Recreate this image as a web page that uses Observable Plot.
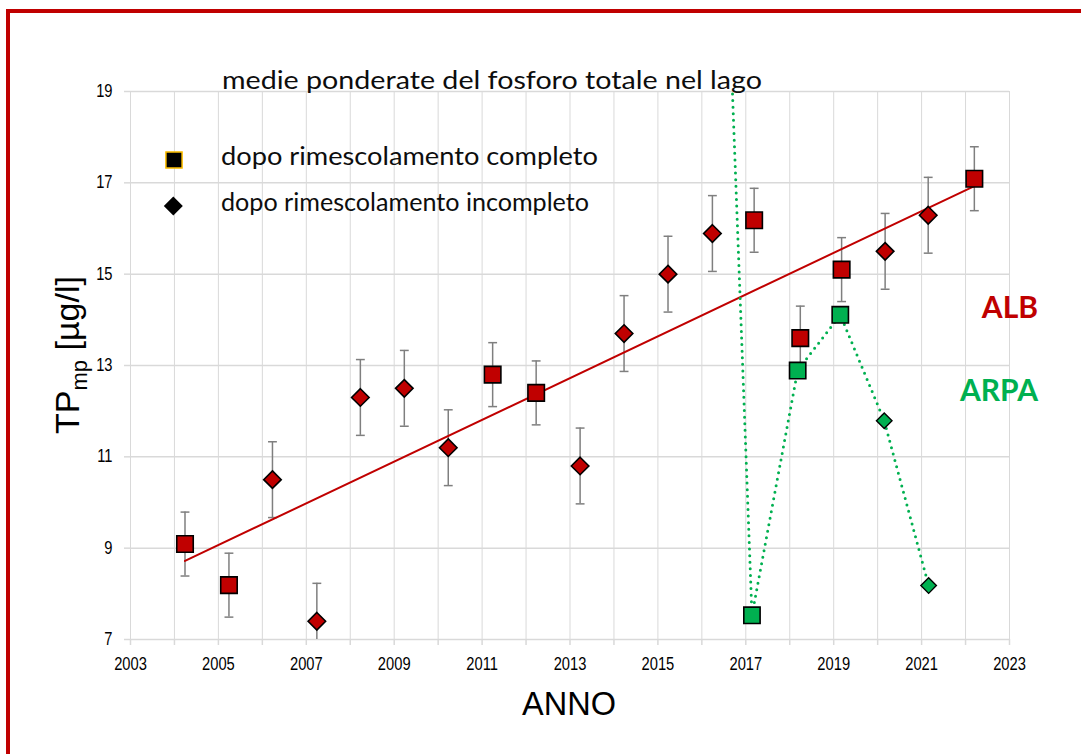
<!DOCTYPE html>
<html>
<head>
<meta charset="utf-8">
<script src="https://cdn.jsdelivr.net/npm/d3@7"></script>
<script src="https://cdn.jsdelivr.net/npm/@observablehq/plot@0.6"></script>
<style>
html, body { margin: 0; padding: 0; background: #fff; }
#chart { width: 1081px; height: 754px; overflow: hidden; }
</style>
</head>
<body>
<div id="chart"></div>
<script>
// ---- data ----
const albYears  = [2004.24, 2005.24, 2006.23, 2007.24, 2008.23, 2009.23, 2010.23, 2011.24, 2012.23, 2013.23, 2014.23, 2015.23, 2016.24, 2017.19, 2018.24, 2019.18, 2020.17, 2021.15, 2022.2];
const albValues = [9.09, 8.19, 10.5, 7.4, 12.3, 12.5, 11.2, 12.8, 12.4, 10.8, 13.7, 15.0, 15.89, 16.18, 13.6, 15.1, 15.5, 16.29, 17.09];
const albErrors = [0.7, 0.7, 0.83, 0.83, 0.83, 0.83, 0.83, 0.7, 0.7, 0.83, 0.83, 0.83, 0.83, 0.7, 0.7, 0.7, 0.83, 0.83, 0.7];
const albMixing = ["completo", "completo", "incompleto", "incompleto", "incompleto", "incompleto", "incompleto", "completo", "completo", "incompleto", "incompleto", "incompleto", "incompleto", "completo", "completo", "completo", "incompleto", "incompleto", "completo"];

const arpaYears  = [2016.2, 2017.14, 2018.18, 2019.15, 2020.15, 2021.16];
const arpaValues = [31.8, 7.53, 12.89, 14.11, 11.79, 8.18];
const arpaMixing = ["incompleto", "completo", "completo", "completo", "incompleto", "incompleto"];

const trendYears  = [2004.24, 2022.2];
const trendValues = [8.72, 16.93];

const yearTicks  = [2003, 2004, 2005, 2006, 2007, 2008, 2009, 2010, 2011, 2012, 2013, 2014, 2015, 2016, 2017, 2018, 2019, 2020, 2021, 2022, 2023];
const yearLabels = [2003, 2005, 2007, 2009, 2011, 2013, 2015, 2017, 2019, 2021, 2023];
const valueTicks = [7, 9, 11, 13, 15, 17, 19];

const titleText   = "medie ponderate del fosforo totale nel lago";
const legendTexts = ["dopo rimescolamento completo", "dopo rimescolamento incompleto"];

// ---- tables ----
const alb  = albYears.map((year, i) => ({year, value: albValues[i], err: albErrors[i], mixing: albMixing[i]}));
const arpa = arpaYears.map((year, i) => ({year, value: arpaValues[i], mixing: arpaMixing[i]}));
const trend = trendYears.map((year, i) => ({year, value: trendValues[i]}));

const RED = "#c00000", GREEN = "#00b050", GRID = "#d9d9d9", ERR = "#7f7f7f";

const capSymbol = {
  draw(ctx, size) { const w = Math.sqrt(size); ctx.moveTo(-w / 2, 0); ctx.lineTo(w / 2, 0); }
};

const tickFont = "'Liberation Sans Narrow', 'Arial Narrow', 'Liberation Sans', sans-serif";

const plot = Plot.plot({
  width: 1081,
  height: 754,
  marginTop: 91,
  marginRight: 72,
  marginBottom: 115,
  marginLeft: 130,
  x: {domain: [2003, 2023]},
  y: {domain: [7, 19]},
  style: {
    fontFamily: tickFont,
    fontSize: "17.5px",
    background: "white",
    color: "black"
  },
  marks: [
    Plot.gridX(yearTicks, {stroke: GRID, strokeOpacity: 1, strokeWidth: 1}),
    Plot.gridY(valueTicks, {stroke: GRID, strokeOpacity: 1, strokeWidth: 1.5}),
    Plot.axisX(yearTicks, {
      tickSize: 6, tickPadding: 12, stroke: GRID, strokeWidth: 1.5, fill: "black",
      tickFormat: d => yearLabels.includes(d) ? String(d) : "", label: null
    }),
    Plot.axisY(valueTicks, {
      tickSize: 6, tickPadding: 12, stroke: GRID, strokeWidth: 1.5, fill: "black", label: null
    }),
    // error bars
    Plot.ruleX(alb, {x: "year", y1: d => d.value - d.err, y2: d => d.value + d.err, stroke: ERR, strokeWidth: 1.5, clip: true}),
    Plot.dot(alb, {x: "year", y: d => d.value + d.err, symbol: capSymbol, r: 5, stroke: ERR, strokeWidth: 1.5, fill: "none", clip: true}),
    Plot.dot(alb, {x: "year", y: d => d.value - d.err, symbol: capSymbol, r: 5, stroke: ERR, strokeWidth: 1.5, fill: "none", clip: true}),
    // trend
    Plot.line(trend, {x: "year", y: "value", stroke: RED, strokeWidth: 2}),
    // ALB points
    Plot.dot(alb.filter(d => d.mixing === "completo"), {x: "year", y: "value", symbol: "square", r: 9.3, fill: RED, stroke: "black", strokeWidth: 1.6, clip: true}),
    Plot.dot(alb.filter(d => d.mixing === "incompleto"), {x: "year", y: "value", symbol: "diamond2", r: 7.9, fill: RED, stroke: "black", strokeWidth: 1.6, clip: true}),
    // ARPA
    Plot.line(arpa, {x: "year", y: "value", stroke: GREEN, strokeWidth: 3, strokeDasharray: "0 6.6", strokeLinecap: "round", clip: true}),
    Plot.dot(arpa.filter(d => d.mixing === "completo"), {x: "year", y: "value", symbol: "square", r: 9.2, fill: GREEN, stroke: "black", strokeWidth: 1.6, clip: true}),
    Plot.dot(arpa.filter(d => d.mixing === "incompleto"), {x: "year", y: "value", symbol: "diamond2", r: 7.0, fill: GREEN, stroke: "black", strokeWidth: 1.4, clip: true})
  ]
});

document.getElementById("chart").appendChild(plot);

// If no narrow face is installed, condense the tick labels to the reference's narrow look.
(function condenseTicks() {
  const c = document.createElement("canvas").getContext("2d");
  c.font = "17.5px 'Liberation Sans Narrow', 'Arial Narrow', monospace";
  const w1 = c.measureText("2003").width;
  c.font = "17.5px monospace";
  const w2 = c.measureText("2003").width;
  if (Math.abs(w1 - w2) > 0.5) return; // narrow font found
  d3.select(plot).selectAll("g[aria-label='x-axis tick label'] text, g[aria-label='y-axis tick label'] text")
    .each(function () {
      const t = this.textContent;
      if (!t) return;
      const w = this.getComputedTextLength();
      if (w > 0) d3.select(this).attr("textLength", w * 0.84).attr("lengthAdjust", "spacingAndGlyphs");
    });
})();

// ---- annotations ----
const svg = d3.select(plot);

svg.append("rect")
  .attr("x", 8).attr("y", 11).attr("width", 1300).attr("height", 1000)
  .attr("fill", "none").attr("stroke", RED).attr("stroke-width", 4);

const body = "Lato, 'Open Sans', sans-serif";

svg.append("text")
  .attr("x", 222).attr("y", 89.3).attr("text-anchor", "start")
  .attr("font-family", body).attr("font-size", 25).attr("fill", "#0d0d0d")
  .attr("textLength", 540).attr("lengthAdjust", "spacingAndGlyphs")
  .text(titleText);

// legend
const lg = svg.append("g");
lg.append("path")
  .attr("transform", "translate(174,160)")
  .attr("d", d3.symbol(d3.symbolSquare, 16.2 * 16.2)())
  .attr("fill", "black").attr("stroke", "#ffc000").attr("stroke-width", 1.5);
lg.append("path")
  .attr("transform", "translate(173.3,206)")
  .attr("d", d3.symbol(d3.symbolDiamond2, Math.pow(19 / 1.2525, 2))())
  .attr("fill", "black");
lg.append("text")
  .attr("x", 221).attr("y", 165).attr("text-anchor", "start")
  .attr("font-family", body).attr("font-size", 25).attr("fill", "#0d0d0d")
  .attr("textLength", 377).attr("lengthAdjust", "spacingAndGlyphs")
  .text(legendTexts[0]);
lg.append("text")
  .attr("x", 221).attr("y", 210.5).attr("text-anchor", "start")
  .attr("font-family", body).attr("font-size", 25).attr("fill", "#0d0d0d")
  .attr("textLength", 368).attr("lengthAdjust", "spacingAndGlyphs")
  .text(legendTexts[1]);

// series labels
svg.append("text")
  .attr("x", 1038).attr("y", 318.3).attr("text-anchor", "end")
  .attr("font-family", body).attr("font-weight", "bold").attr("font-size", 30).attr("fill", RED)
  .text("ALB");
svg.append("text")
  .attr("x", 1038).attr("y", 400.7).attr("text-anchor", "end")
  .attr("font-family", body).attr("font-weight", "bold").attr("font-size", 30).attr("fill", GREEN)
  .text("ARPA");

// axis titles
svg.append("text")
  .attr("x", 569).attr("y", 715).attr("text-anchor", "middle")
  .attr("font-family", "'Liberation Sans', Arial, sans-serif").attr("font-size", 32.5).attr("fill", "black")
  .text("ANNO");

const yl = svg.append("text")
  .attr("transform", "translate(79,355) rotate(-90)")
  .attr("text-anchor", "middle")
  .attr("font-family", "'Liberation Sans', Arial, sans-serif").attr("font-size", 34).attr("fill", "black");
yl.append("tspan").text("TP");
yl.append("tspan").attr("font-size", 22).attr("dy", 8).text("mp");
yl.append("tspan").attr("dy", -8).text(" [µg/l]");
</script>
</body>
</html>
